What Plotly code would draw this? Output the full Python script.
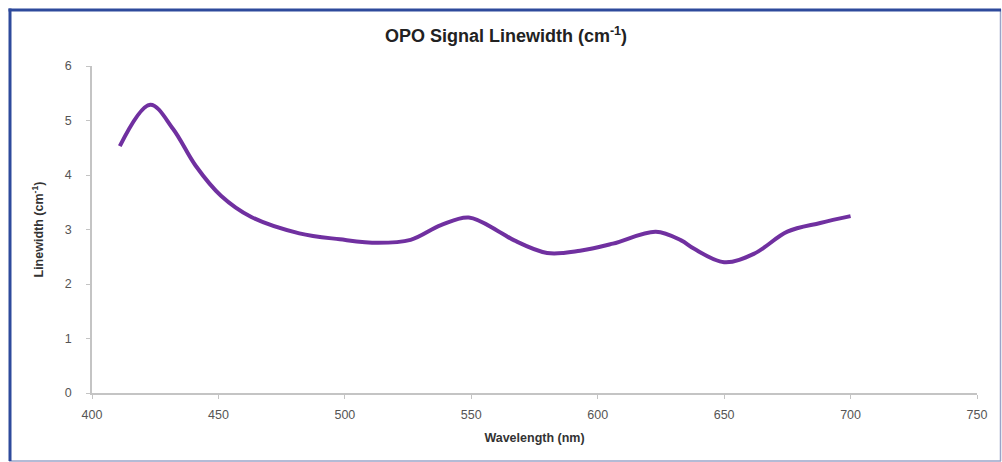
import plotly.graph_objects as go

wavelength = [411, 423, 432, 441, 451, 463, 482, 498, 513, 526, 538, 549, 561, 567, 580, 593, 606, 623, 633, 638, 650, 662, 675, 688, 700]
linewidth = [4.53, 5.29, 4.85, 4.17, 3.62, 3.23, 2.93, 2.82, 2.755, 2.81, 3.08, 3.22, 2.96, 2.80, 2.57, 2.61, 2.74, 2.96, 2.80, 2.65, 2.40, 2.56, 2.96, 3.12, 3.245]

x_ticks = [400, 450, 500, 550, 600, 650, 700, 750]
y_ticks = [0, 1, 2, 3, 4, 5, 6]

fig = go.Figure()
fig.add_trace(go.Scatter(
    x=wavelength, y=linewidth, mode="lines",
    line=dict(color="#7030a0", width=4, shape="spline", smoothing=1.0),
    showlegend=False, hoverinfo="x+y",
))

L, R, T, B = 92, 25, 66, 69
W, H = 1002, 462
pw, ph = W - L - R, H - T - B

def px(x):
    return (x - L) / pw

def py(y):
    return (H - B - y) / ph

fig.update_layout(
    width=W, height=H,
    margin=dict(l=L, r=R, t=T, b=B, pad=0),
    paper_bgcolor="white", plot_bgcolor="white",
    font=dict(family="Arial, Liberation Sans, sans-serif", color="#444444", size=12),
    title=dict(
        text="<b>OPO Signal Linewidth (cm<sup>-1</sup>)</b>",
        x=px(506), xref="paper", xanchor="center",
        y=1 - 36 / H, yref="container", yanchor="middle",
        font=dict(size=18, color="#222222", family="Arial, Liberation Sans, sans-serif"),
    ),
    xaxis=dict(
        range=[400, 750], tickvals=x_ticks, ticktext=[str(v) for v in x_ticks],
        showgrid=False, zeroline=False, showline=True, linecolor="#c4c4c4", linewidth=1.5,
        ticks="outside", ticklen=4, tickcolor="#c4c4c4",
        tickfont=dict(size=12.5, color="#555555"), ticklabelstandoff=5,
        title=dict(text="<b>Wavelength (nm)</b>", font=dict(size=12.5, color="#333333"), standoff=12),
    ),
    yaxis=dict(
        range=[0, 6], tickvals=y_ticks, ticktext=[str(v) for v in y_ticks],
        showgrid=False, zeroline=False, showline=True, linecolor="#c4c4c4", linewidth=1.5,
        ticks="outside", ticklen=4, tickcolor="#c4c4c4",
        tickfont=dict(size=12.5, color="#555555"), ticklabelstandoff=12,
        title=dict(text="<b>Linewidth (cm<sup>-1</sup>)</b>", font=dict(size=12.5, color="#333333"), standoff=18),
    ),
)

# frame around the chart
fig.add_shape(type="line", xref="paper", yref="paper",
              x0=px(1000.5), x1=px(1000.5), y0=py(9), y1=py(461),
              line=dict(color="#9aa4c8", width=1.5))
fig.add_shape(type="line", xref="paper", yref="paper",
              x0=px(9), x1=px(1001), y0=py(461), y1=py(461),
              line=dict(color="#9aa4c8", width=1.5))
fig.add_shape(type="line", xref="paper", yref="paper",
              x0=px(8.5), x1=px(1001), y0=py(10), y1=py(10),
              line=dict(color="#2e4a9c", width=3))
fig.add_shape(type="line", xref="paper", yref="paper",
              x0=px(10), x1=px(10), y0=py(8.5), y1=py(461),
              line=dict(color="#2e4a9c", width=3))

fig.write_html("out.html")
